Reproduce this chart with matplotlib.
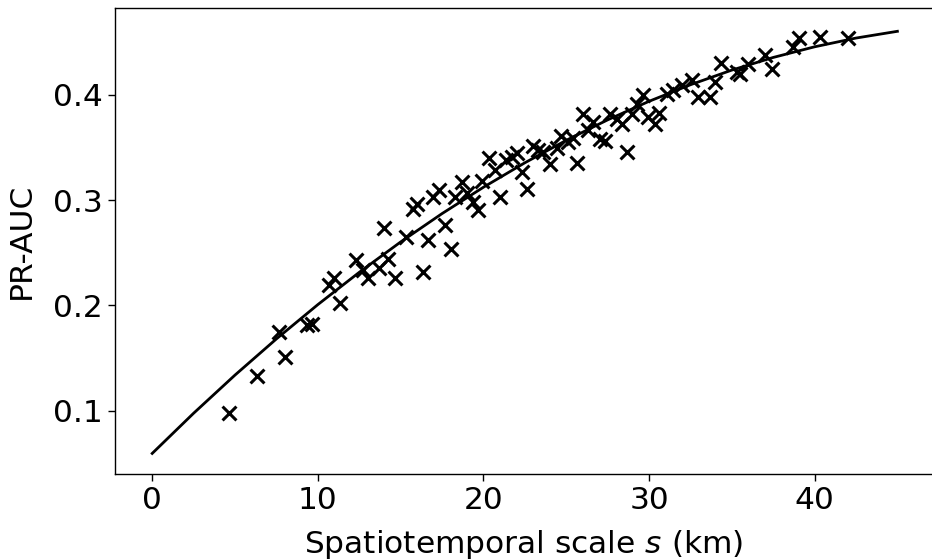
import matplotlib
matplotlib.use("Agg")
import matplotlib.pyplot as plt

# Scatter data: spatiotemporal scale (km) vs PR-AUC
scale_km = [4.66, 6.31, 8.00, 7.66, 9.33, 9.67, 10.69, 11.00, 11.32, 12.31,
            12.75, 13.01, 13.70, 14.26, 14.66, 14.00, 15.33, 16.33, 16.64, 15.73,
            16.01, 16.97, 17.34, 17.71, 18.03, 18.29, 18.69, 18.99, 19.39, 19.69,
            19.90, 20.34, 20.70, 21.00, 21.36, 21.71, 22.01, 22.31, 22.65, 23.01,
            23.32, 23.58, 24.02, 24.43, 24.67, 25.13, 25.67, 26.03, 26.64, 26.33,
            27.04, 27.34, 27.65, 28.05, 28.35, 28.65, 28.96, 29.26, 29.66, 29.96,
            30.36, 30.62, 31.07, 31.47, 31.97, 32.58, 32.98, 33.68, 33.99, 34.35,
            35.30, 35.50, 36.00, 37.00, 37.41, 38.67, 39.05, 40.33, 42.04, 25.40]
pr_auc = [0.0976, 0.1333, 0.1513, 0.1750, 0.1813, 0.1823, 0.2192, 0.2256, 0.2027, 0.2429,
          0.2335, 0.2256, 0.2351, 0.2436, 0.2262, 0.2730, 0.2650, 0.2318, 0.2619, 0.2919,
          0.2967, 0.3029, 0.3093, 0.2761, 0.2540, 0.3024, 0.3172, 0.3062, 0.2982, 0.2903,
          0.3181, 0.3399, 0.3282, 0.3024, 0.3377, 0.3409, 0.3446, 0.3266, 0.3100, 0.3510,
          0.3472, 0.3456, 0.3339, 0.3498, 0.3605, 0.3551, 0.3352, 0.3820, 0.3740, 0.3662,
          0.3583, 0.3560, 0.3820, 0.3773, 0.3725, 0.3456, 0.3820, 0.3915, 0.3993, 0.3788,
          0.3725, 0.3826, 0.4009, 0.4041, 0.4088, 0.4142, 0.3977, 0.3977, 0.4119, 0.4300,
          0.4214, 0.4199, 0.4294, 0.4373, 0.4246, 0.4451, 0.4534, 0.4546, 0.4540, 0.3590]

# Fitted trend curve
curve_x = [0, 2.5, 5, 7.5, 10, 12.5, 15, 17.5, 20, 22.5,
           25, 27.5, 30, 32.5, 35, 37.5, 40, 42.5, 45]
curve_y = [0.0597, 0.0978, 0.1340, 0.1683, 0.2008, 0.2314, 0.2602, 0.2871, 0.3121, 0.3353,
           0.3566, 0.3760, 0.3936, 0.4093, 0.4232, 0.4352, 0.4453, 0.4536, 0.4600]

x_ticks = [0, 10, 20, 30, 40]
y_ticks = [0.1, 0.2, 0.3, 0.4]

W, H, DPI = 932, 559, 100
left_px, right_px, top_px, bottom_px = 114.7, 933.0, 8.0, 474.3
fig = plt.figure(figsize=(W / DPI, H / DPI), dpi=DPI)
ax = fig.add_axes([left_px / W, (H - bottom_px) / H,
                   (right_px - left_px) / W, (bottom_px - top_px) / H])

ax.plot(curve_x, curve_y, color="black", lw=2.0, zorder=2)
ax.scatter(scale_km, pr_auc, marker="x", s=100, color="black", linewidths=2.2, zorder=3)

px_per_km = 16.56
ax.set_xlim(-(152.2 - left_px) / px_per_km, (right_px - 152.2) / px_per_km)
ax.set_ylim(0.0399, 0.4821)
ax.set_xticks(x_ticks)
ax.set_yticks(y_ticks)
ax.tick_params(labelsize=22.5, length=5, width=1.0)
for sp in ax.spines.values():
    sp.set_linewidth(1.0)
ax.spines["right"].set_visible(False)
ax.set_xlabel("Spatiotemporal scale $s$ (km)", fontsize=22.5, labelpad=9)
ax.set_ylabel("PR-AUC", fontsize=22.5, labelpad=12)

fig.savefig("out.png", dpi=DPI)
